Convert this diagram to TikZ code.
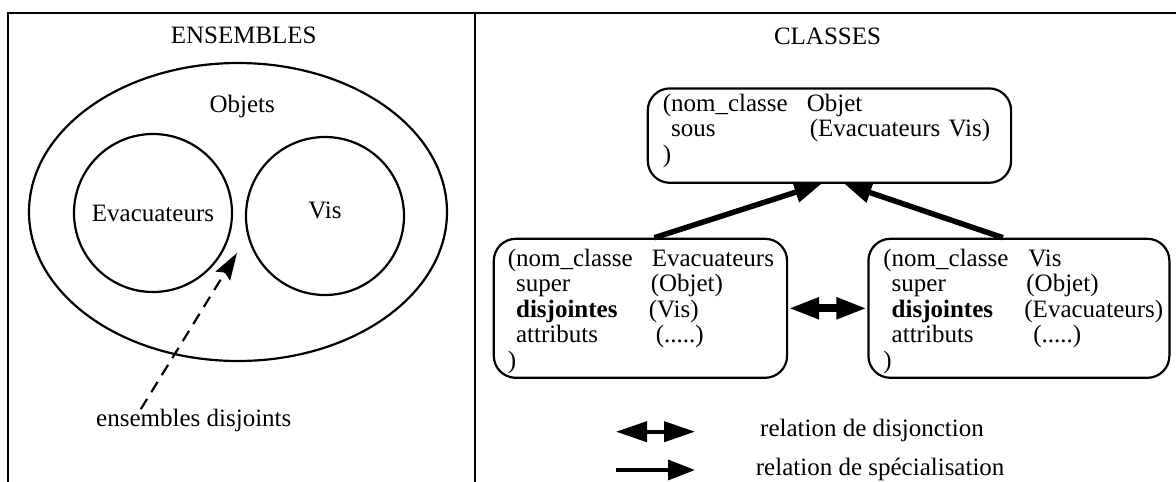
\documentclass[tikz,border=0pt]{standalone}
\usepackage{fontspec}
\setmainfont{Liberation Serif}
\usetikzlibrary{arrows.meta,shapes.geometric}

\newcommand{\ligne}[3][144pt]{\makebox[#1][l]{#2}#3}

\tikzset{
	cadre/.style = {line width = 2.7pt},
	ensemble/.style = {draw = black, line width = 2.2pt},
	classe/.style = {draw = black, line width = 2.2pt, rounded corners = 22pt,
					 align = left, inner xsep = 15pt, inner ysep = 0pt,
					 text height = 27.3pt, text depth = 111.7pt,
					 anchor = north west},
	specialisation/.style = {line width = 5.5pt,
					 -{Triangle[length = 27pt, width = 20pt]}},
	disjonction/.style = {line width = 8pt,
					 {Triangle[length = 31pt, width = 20pt]}-{Triangle[length = 31pt, width = 20pt]}},
	indication/.style = {line width = 2.2pt, dash pattern = on 12pt off 8pt,
					 -{Stealth[length = 27pt, width = 17pt, inset = 4pt]}}
}

\begin{document}
\begin{tikzpicture}[x = 1pt, y = -1pt, inner sep = 0pt,
					font = \fontsize{25}{25.5}\selectfont]

	\useasboundingbox (0,0) rectangle (1176,482);

	\draw[cadre] (8,482) -- (8,13) -- (1176,13);
	\draw[cadre] (475,13) -- (475,482);

	\draw (243.7,43.3) node[anchor = base] (ensembles) {ENSEMBLES};
	\draw (827.5,44) node[anchor = base] (classes) {CLASSES};

	\draw (238,212) node[ensemble,
					 shape = ellipse,
					 minimum width = 418pt,
					 minimum height = 298pt] (objets) {};
	\draw (242.2,112.7) node[anchor = base] (nomobjets) {Objets};

	\draw (153,213) node[ensemble,
					 shape = circle,
					 minimum size = 158pt] (evacuateurs) {Evacuateurs};

	\draw (325,216) node[ensemble,
					 shape = circle,
					 minimum size = 158pt,
					 text depth = 12pt] (vis) {Vis};

	\draw (193.8,426.7) node[anchor = base] (disjoints) {ensembles disjoints};
	\coordinate (entre) at (237,253);
	\draw[indication] ([xshift = -53pt]disjoints.north) -- (entre);

	\draw (646.7,87.3) node[classe,
					 text width = 333.3pt,
					 text height = 22.7pt,
					 text depth = 71.7pt] (objet)
		{\ligne{(nom\_classe}{Objet}\\
		 \ligne[147pt]{\ sous}{(Evacuateurs Vis)}\\
		 )};

	\draw (492.7,237.7) node[classe,
					 inner xsep = 14pt,
					 text width = 265.3pt] (evac)
		{\ligne{(nom\_classe}{Evacuateurs}\\
		 \ligne[143pt]{\ super}{(Objet)}\\
		 \ligne[141pt]{\ \textbf{disjointes}}{(Vis)}\\
		 \ligne[148pt]{\ attributs}{(.....)}\\
		 )};

	\draw (867.3,237.7) node[classe,
					 text width = 271pt] (classevis)
		{\ligne[145pt]{(nom\_classe}{Vis}\\
		 \ligne[143pt]{\ super}{(Objet)}\\
		 \ligne[141pt]{\ \textbf{disjointes}}{(Evacuateurs)}\\
		 \ligne[150pt]{\ attributs}{(.....)}\\
		 )};

	\draw[specialisation] ([xshift = 14pt]evac.north) -- ([xshift = -8pt]objet.south);
	\draw[specialisation] ([xshift = -16pt]classevis.north) -- ([xshift = 15pt]objet.south);
	\draw[disjonction] (evac.east) -- (classevis.west);

	\coordinate (disjA) at (616,431.7);
	\coordinate (disjB) at (695,431.7);
	\coordinate (specA) at (616,470);
	\coordinate (specB) at (695,470);
	\draw[disjonction, line width = 4pt] (disjA) -- (disjB);
	\draw[specialisation, line width = 3.5pt] (specA) -- (specB);

	\draw (760,436.7) node[anchor = base west] (lgdisj) {relation de disjonction};
	\draw (755.7,475) node[anchor = base west] (lgspec) {relation de spécialisation};
\end{tikzpicture}
\end{document}
